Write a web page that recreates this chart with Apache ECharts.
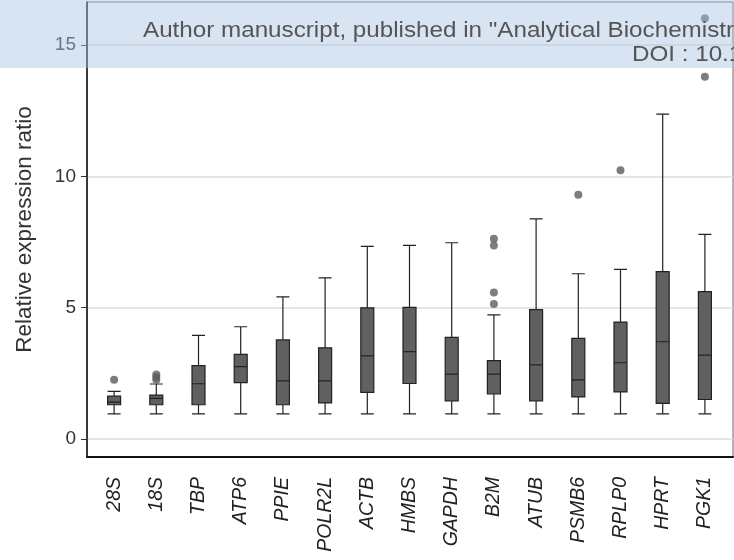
<!DOCTYPE html>
<html>
<head>
<meta charset="utf-8">
<script src="https://cdn.jsdelivr.net/npm/echarts@6/dist/echarts.min.js"></script>
<style>
  html, body { margin: 0; padding: 0; background: #fff; }
  #chart { width: 734px; height: 560px; }
</style>
</head>
<body>
<div id="chart"></div>
<script>
const categories = ["28S", "18S", "TBP", "ATP6", "PPIE", "POLR2L", "ACTB", "HMBS",
  "GAPDH", "B2M", "ATUB", "PSMB6", "RPLP0", "HPRT", "PGK1"];

// box statistics
const lowerWhisker = [0.95, 0.95, 0.95, 0.95, 0.95, 0.95, 0.95, 0.95, 0.95, 0.95, 0.95, 0.95, 0.95, 0.95, 0.95];
const q1 = [1.30, 1.30, 1.30, 2.14, 1.30, 1.37, 1.77, 2.11, 1.45, 1.71, 1.45, 1.60, 1.79, 1.35, 1.50];
const median = [1.40, 1.54, 2.10, 2.75, 2.21, 2.21, 3.16, 3.32, 2.47, 2.47, 2.82, 2.25, 2.90, 3.70, 3.19];
const q3 = [1.63, 1.67, 2.79, 3.22, 3.77, 3.47, 4.99, 5.01, 3.87, 2.98, 4.92, 3.83, 4.45, 6.37, 5.61];
const upperWhisker = [1.81, 2.09, 3.94, 4.27, 5.41, 6.13, 7.33, 7.37, 7.47, 4.72, 8.38, 6.29, 6.46, 12.37, 7.79];

// outliers as [category, value]
const outliers = [
  ["28S", 2.25],
  ["18S", 2.25], ["18S", 2.35], ["18S", 2.45],
  ["B2M", 5.14], ["B2M", 5.58], ["B2M", 7.37], ["B2M", 7.62],
  ["PSMB6", 9.30],
  ["RPLP0", 10.23],
  ["PGK1", 13.79], ["PGK1", 16.02],
];

const yTicks = [0, 5, 10, 15];
const yMin = -0.69;
const yMax = 16.64;

const fontFamily = "'Liberation Sans', Arial, sans-serif";

const boxData = categories.map((c, i) => [lowerWhisker[i], q1[i], median[i], q3[i], upperWhisker[i]]);

const chart = echarts.init(document.getElementById("chart"));

const option = {
  animation: false,
  backgroundColor: "#fff",
  grid: [
    // frame: border, y axis, gridlines
    { left: 87, top: 2, width: 646, height: 455, show: true, borderColor: "#666", borderWidth: 1 },
    // data area, slightly inset like the original plot
    { left: 93, top: 2, width: 633, height: 455 },
  ],
  xAxis: [
    {
      gridIndex: 0,
      type: "value",
      min: 0,
      max: 1,
      axisLine: { show: true, onZero: false, lineStyle: { color: "#111", width: 2 } },
      axisTick: { show: false },
      axisLabel: { show: false },
      splitLine: { show: false },
    },
    {
      gridIndex: 1,
      type: "category",
      data: categories,
      axisLine: { show: false },
      axisTick: { show: false },
      axisLabel: {
        rotate: 90,
        margin: 20,
        interval: 0,
        fontSize: 19.5,
        fontStyle: "italic",
        color: "#222",
        fontFamily: fontFamily,
      },
      splitLine: { show: false },
    },
  ],
  yAxis: [
    {
      gridIndex: 0,
      type: "value",
      min: yMin,
      max: yMax,
      name: "Relative expression ratio",
      nameLocation: "middle",
      nameGap: 51,
      nameTextStyle: { fontSize: 22.5, color: "#333", fontFamily: fontFamily },
      axisLine: { show: true, onZero: false, lineStyle: { color: "#111", width: 1.5 } },
      axisTick: { show: true, length: 6, customValues: yTicks, lineStyle: { color: "#333" } },
      axisLabel: { customValues: yTicks, fontSize: 19, color: "#333", margin: 11, fontFamily: fontFamily },
      splitLine: { show: true, lineStyle: { color: "#dcdcdc", width: 1.5 } },
    },
    {
      gridIndex: 1,
      type: "value",
      min: yMin,
      max: yMax,
      show: false,
      splitLine: { show: false },
    },
  ],
  series: [
    {
      name: "box",
      type: "boxplot",
      xAxisIndex: 1,
      yAxisIndex: 1,
      data: boxData,
      boxWidth: [13, 13],
      itemStyle: { color: "#606060", borderColor: "#222", borderWidth: 1.2 },
      z: 3,
    },
    {
      name: "outliers",
      type: "scatter",
      xAxisIndex: 1,
      yAxisIndex: 1,
      data: outliers,
      symbolSize: 8,
      itemStyle: { color: "#5c5c5c" },
      z: 4,
    },
  ],
  // manuscript banner laid over the top of the page
  graphic: [
    {
      type: "rect",
      z: 100,
      shape: { x: 0, y: 0, width: 734, height: 68 },
      style: { fill: "rgba(170,195,228,0.45)" },
    },
    {
      type: "text",
      z: 101,
      x: 143,
      y: 31,
      scaleX: 1.1,
      style: {
        text: 'Author manuscript, published in "Analytical Biochemistry 404, 1 (2010) 47-52"',
        fontSize: 22,
        fontFamily: fontFamily,
        fill: "#555",
        textVerticalAlign: "middle",
      },
    },
    {
      type: "text",
      z: 101,
      x: 632,
      y: 55,
      scaleX: 1.1,
      style: {
        text: "DOI : 10.1016/j.ab.2010.04.036",
        fontSize: 22,
        fontFamily: fontFamily,
        fill: "#555",
        textVerticalAlign: "middle",
      },
    },
  ],
};

chart.setOption(option);
</script>
</body>
</html>
